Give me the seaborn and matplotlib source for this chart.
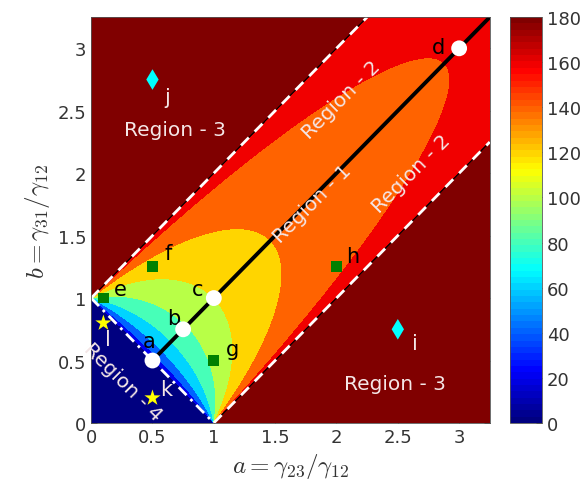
import numpy as np
import matplotlib
matplotlib.use("Agg")
import matplotlib.pyplot as plt
from matplotlib.colors import ListedColormap, Normalize
import seaborn as sns

# levels and point data
levels = [0, 20, 40, 60, 80, 100, 120, 140, 160, 180]
cbar_ticks = [0, 20, 40, 60, 80, 100, 120, 140, 160, 180]

circle_a = [0.5, 0.75, 1.0, 3.0]
circle_b = [0.5, 0.75, 1.0, 3.0]
circle_lab = ["a", "b", "c", "d"]
square_a = [0.1, 0.5, 1.0, 2.0]
square_b = [1.0, 1.25, 0.5, 1.25]
square_lab = ["e", "f", "g", "h"]
diamond_a = [2.5, 0.5]
diamond_b = [0.75, 2.75]
diamond_lab = ["i", "j"]
star_a = [0.5, 0.1]
star_b = [0.2, 0.8]
star_lab = ["k", "l"]

# where the letters sit
lab_pos = {
    "a": (0.47, 0.66), "b": (0.67, 0.84), "c": (0.87, 1.07), "d": (2.83, 3.01),
    "e": (0.24, 1.07), "f": (0.63, 1.36), "g": (1.15, 0.59), "h": (2.13, 1.34),
    "i": (2.64, 0.64), "j": (0.62, 2.61), "k": (0.61, 0.27), "l": (0.14, 0.67),
}

# angle field
amax = 3.25
av = np.linspace(0.0005, amax, 700)
A, B = np.meshgrid(av, av)
cos_t = np.clip((A**2 + B**2 - 1) / (2 * A * B), -1, 1)
Z = 180 - np.degrees(np.arccos(cos_t))
Z[(B > A + 1) | (B < A - 1)] = 190
Z[A + B < 1] = -0.5

# matlab style jet(64)
x = np.arange(64) / 63
jet_rgb = np.stack([np.clip(1.5 - np.abs(4 * x - 3), 0, 1),
                    np.clip(1.5 - np.abs(4 * x - 2), 0, 1),
                    np.clip(1.5 - np.abs(4 * x - 1), 0, 1)], axis=1)
cmap = ListedColormap(jet_rgb)
norm = Normalize(0, 180)

sns.set_style("ticks")
plt.rcParams["font.family"] = ["DejaVu Sans"]
plt.rcParams["mathtext.fontset"] = "cm"

fig = plt.figure(figsize=(5.88, 4.89), dpi=100)
ax = fig.add_axes([0.155, 0.133, 0.678, 0.830])
cax = fig.add_axes([0.867, 0.133, 0.055, 0.830])

band_colors = [cmap(norm(L)) for L in levels]
ax.contourf(A, B, Z, levels=[-1] + levels[1:] + [200], colors=band_colors)

# boundary lines
ax.plot([0, amax - 1], [1, amax], color="black", lw=0.8)
ax.plot([1, amax], [0, amax - 1], color="black", lw=0.8)
ax.plot([0, amax - 1], [1, amax], color="white", lw=2, ls=(0, (4, 3)))
ax.plot([1, amax], [0, amax - 1], color="white", lw=2, ls=(0, (4, 3)))
ax.plot([0, 1], [1, 0], color="white", lw=2, ls=(0, (4, 2, 1, 2)))

sns.lineplot(x=[0.5, amax], y=[0.5, amax], color="black", lw=2.8, ax=ax)

sns.scatterplot(x=circle_a, y=circle_b, marker="o", s=130, color="white",
                edgecolor="none", ax=ax, zorder=5)
sns.scatterplot(x=square_a, y=square_b, marker="s", s=60, color="#008000",
                edgecolor="none", ax=ax, zorder=5)
sns.scatterplot(x=diamond_a, y=diamond_b, marker="d", s=110, color="cyan",
                edgecolor="none", ax=ax, zorder=5)
sns.scatterplot(x=star_a, y=star_b, marker="*", s=150, color="yellow",
                edgecolor="none", ax=ax, zorder=5)

tc = "#f4e6e6"
for lab in circle_lab + square_lab:
    ax.text(*lab_pos[lab], lab, fontsize=15, color="black", ha="center", va="center")
for lab in diamond_lab + star_lab:
    ax.text(*lab_pos[lab], lab, fontsize=15, color=tc, ha="center", va="center")

ax.text(0.68, 2.35, "Region - 3", fontsize=14.5, color=tc, ha="center", va="center")
ax.text(2.48, 0.32, "Region - 3", fontsize=14.5, color=tc, ha="center", va="center")
ax.text(2.04, 2.59, "Region - 2", fontsize=14.5, color=tc, ha="center", va="center", rotation=45)
ax.text(2.61, 2.0, "Region - 2", fontsize=14.5, color=tc, ha="center", va="center", rotation=45)
ax.text(1.80, 1.76, "Region - 1", fontsize=14.5, color=tc, ha="center", va="center", rotation=45)
ax.text(0.26, 0.33, "Region - 4", fontsize=14.5, color=tc, ha="center", va="center", rotation=-45)

ax.set_xlim(0, amax)
ax.set_ylim(0, amax)
ax.set_xticks([0, 0.5, 1, 1.5, 2, 2.5, 3])
ax.set_yticks([0, 0.5, 1, 1.5, 2, 2.5, 3])
ax.set_xticklabels(["0", "0.5", "1", "1.5", "2", "2.5", "3"])
ax.set_yticklabels(["0", "0.5", "1", "1.5", "2", "2.5", "3"])
ax.tick_params(direction="in", top=True, right=True, labelsize=13,
               colors="#333333", length=4, width=0.6)
for sp in ax.spines.values():
    sp.set_color("#555555")
    sp.set_linewidth(0.6)
ax.set_xlabel(r"$a = \gamma_{23}/\gamma_{12}$", fontsize=18, color="#333333")
ax.set_ylabel(r"$b = \gamma_{31}/\gamma_{12}$", fontsize=18, color="#333333")

sm = matplotlib.cm.ScalarMappable(norm=norm, cmap=cmap)
cb = fig.colorbar(sm, cax=cax, ticks=cbar_ticks)
cb.ax.tick_params(direction="in", labelsize=13, colors="#333333", length=4, width=0.6)
cb.outline.set_edgecolor("#555555")
cb.outline.set_linewidth(0.6)

fig.savefig("out.png", dpi=100)
